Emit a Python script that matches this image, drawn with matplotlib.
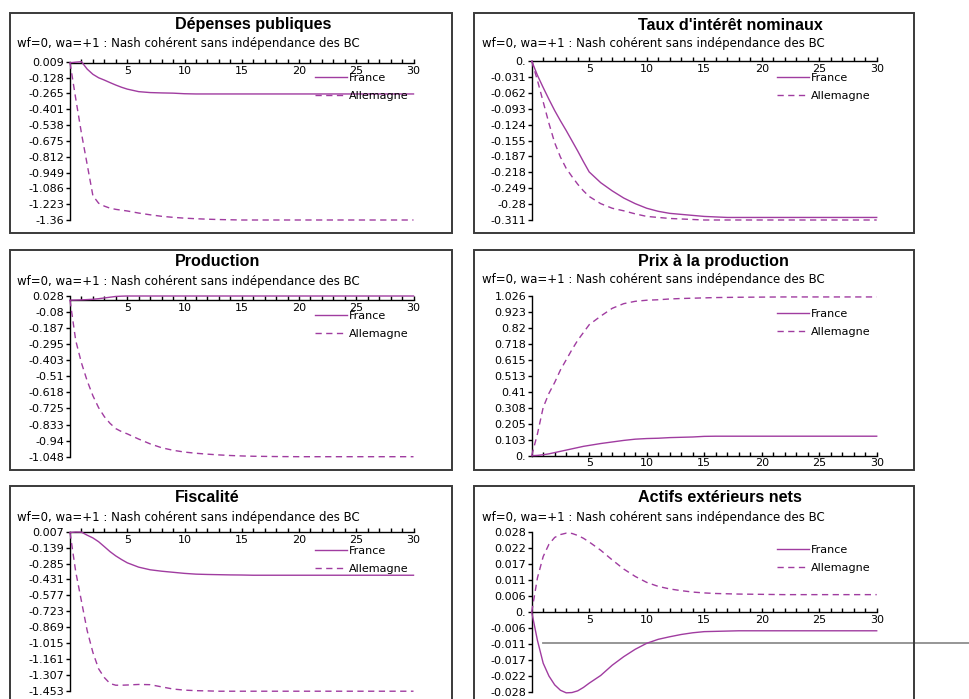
import matplotlib
matplotlib.use("Agg")
import matplotlib.pyplot as plt
from matplotlib.patches import Rectangle
import numpy as np

W, H = 970, 699

# Simulation horizon (periods after the shock)
periods = [0, 0.5, 1, 1.5, 2, 2.5, 3, 3.5, 4, 4.5, 5, 6, 7, 8, 9, 10, 11, 12, 13, 14,
           15, 16, 17, 18, 20, 22, 24, 26, 28, 30]

depenses_france = [0.0, 0.005, 0.009, -0.055, -0.100, -0.130, -0.150, -0.172, -0.193, -0.212,
                   -0.228, -0.250, -0.258, -0.261, -0.263, -0.268, -0.270, -0.270, -0.270, -0.270,
                   -0.270, -0.270, -0.270, -0.270, -0.270, -0.270, -0.270, -0.270, -0.270, -0.270]
depenses_allemagne = [0.0, -0.31, -0.61, -0.88, -1.15, -1.215, -1.24, -1.258, -1.268, -1.275,
                      -1.282, -1.300, -1.315, -1.328, -1.337, -1.344, -1.349, -1.353, -1.356, -1.358,
                      -1.360, -1.360, -1.360, -1.360, -1.360, -1.360, -1.360, -1.360, -1.360, -1.360]

taux_france = [0.0, -0.028, -0.052, -0.075, -0.097, -0.117, -0.136, -0.156, -0.176, -0.197,
               -0.217, -0.238, -0.254, -0.268, -0.279, -0.288, -0.294, -0.298, -0.300, -0.302,
               -0.304, -0.305, -0.306, -0.306, -0.306, -0.306, -0.306, -0.306, -0.306, -0.306]
taux_allemagne = [0.0, -0.038, -0.080, -0.122, -0.160, -0.188, -0.210, -0.226, -0.241, -0.254,
                  -0.265, -0.279, -0.288, -0.293, -0.299, -0.304, -0.306, -0.308, -0.309, -0.310,
                  -0.311, -0.311, -0.311, -0.311, -0.311, -0.311, -0.311, -0.311, -0.311, -0.311]

production_france = [0.0, 0.001, 0.002, 0.004, 0.006, 0.010, 0.015, 0.020, 0.025, 0.027,
                     0.028, 0.028, 0.028, 0.028, 0.028, 0.028, 0.028, 0.028, 0.028, 0.028,
                     0.028, 0.028, 0.028, 0.028, 0.028, 0.028, 0.028, 0.028, 0.028, 0.028]
production_allemagne = [0.0, -0.27, -0.42, -0.54, -0.64, -0.72, -0.78, -0.825, -0.86, -0.88,
                        -0.895, -0.93, -0.962, -0.988, -1.005, -1.017, -1.025, -1.031, -1.036, -1.040,
                        -1.043, -1.045, -1.046, -1.047, -1.048, -1.048, -1.048, -1.048, -1.048, -1.048]

prix_france = [0.0, 0.002, 0.006, 0.012, 0.020, 0.028, 0.036, 0.044, 0.052, 0.060,
               0.066, 0.078, 0.088, 0.098, 0.106, 0.110, 0.112, 0.116, 0.118, 0.120,
               0.124, 0.125, 0.125, 0.125, 0.125, 0.125, 0.125, 0.125, 0.125, 0.125]
prix_allemagne = [0.0, 0.14, 0.31, 0.40, 0.47, 0.55, 0.615, 0.68, 0.74, 0.79,
                  0.84, 0.895, 0.945, 0.975, 0.99, 0.997, 1.0, 1.005, 1.008, 1.010,
                  1.012, 1.014, 1.015, 1.016, 1.017, 1.018, 1.018, 1.018, 1.018, 1.018]

fiscalite_france = [0.0, 0.004, 0.003, -0.025, -0.050, -0.085, -0.130, -0.176, -0.215, -0.248,
                    -0.278, -0.318, -0.342, -0.355, -0.365, -0.375, -0.382, -0.385, -0.387, -0.389,
                    -0.390, -0.392, -0.392, -0.392, -0.392, -0.392, -0.392, -0.392, -0.392, -0.392]
fiscalite_allemagne = [0.0, -0.36, -0.63, -0.90, -1.10, -1.25, -1.33, -1.385, -1.40, -1.40,
                       -1.398, -1.393, -1.395, -1.415, -1.435, -1.445, -1.450, -1.452, -1.455, -1.455,
                       -1.455, -1.455, -1.455, -1.455, -1.455, -1.455, -1.455, -1.455, -1.455, -1.455]

actifs_france = [0.0, -0.0100, -0.0180, -0.0225, -0.0256, -0.0275, -0.0284, -0.0283, -0.0277, -0.0265,
                 -0.0250, -0.0223, -0.0187, -0.0157, -0.0131, -0.0110, -0.0096, -0.0087, -0.0079, -0.0073,
                 -0.0069, -0.0068, -0.0067, -0.0066, -0.0066, -0.0066, -0.0066, -0.0066, -0.0066, -0.0066]
actifs_allemagne = [0.0, 0.0120, 0.0195, 0.0238, 0.0262, 0.0272, 0.0277, 0.0276, 0.0269, 0.0259,
                    0.0246, 0.0217, 0.0183, 0.0151, 0.0125, 0.0104, 0.0090, 0.0081, 0.0075, 0.0070,
                    0.0067, 0.0065, 0.0064, 0.0063, 0.0062, 0.0061, 0.0061, 0.0061, 0.0061, 0.0061]

# Stray horizontal rule in the net foreign assets panel
actifs_rule_level = -0.011
actifs_rule_start = 1

titles = ["Dépenses publiques", "Taux d'intérêt nominaux", "Production",
          "Prix à la production", "Fiscalité", "Actifs extérieurs nets"]
subtitle = "wf=0, wa=+1 : Nash cohérent sans indépendance des BC"
series_names = ["France", "Allemagne"]

ytick_labels = [
    ["0.009", "-0.128", "-0.265", "-0.401", "-0.538", "-0.675", "-0.812", "-0.949", "-1.086", "-1.223", "-1.36"],
    ["0.", "-0.031", "-0.062", "-0.093", "-0.124", "-0.155", "-0.187", "-0.218", "-0.249", "-0.28", "-0.311"],
    ["0.028", "-0.08", "-0.187", "-0.295", "-0.403", "-0.51", "-0.618", "-0.725", "-0.833", "-0.94", "-1.048"],
    ["1.026", "0.923", "0.82", "0.718", "0.615", "0.513", "0.41", "0.308", "0.205", "0.103", "0."],
    ["0.007", "-0.139", "-0.285", "-0.431", "-0.577", "-0.723", "-0.869", "-1.015", "-1.161", "-1.307", "-1.453"],
    ["0.028", "0.022", "0.017", "0.011", "0.006", "0.", "-0.006", "-0.011", "-0.017", "-0.022", "-0.028"],
]
xtick_labels = ["5", "10", "15", "20", "25", "30"]

france_series = [depenses_france, taux_france, production_france, prix_france,
                 fiscalite_france, actifs_france]
allemagne_series = [depenses_allemagne, taux_allemagne, production_allemagne, prix_allemagne,
                    fiscalite_allemagne, actifs_allemagne]

# Layout, in pixels: plot box, frame box, title anchor, subtitle anchor, legend anchor
layout = [
    dict(plot=(70, 61.7, 413.5, 220.0), frame=(10, 13, 452, 233), title=(175, 25), sub=(17, 44), leg=(315, 73)),
    dict(plot=(531.7, 61.0, 876.7, 220.0), frame=(474, 13, 914, 233), title=(638, 25), sub=(482, 44), leg=(777, 73)),
    dict(plot=(70, 296.0, 413.5, 456.7), frame=(10, 250, 452, 470), title=(175, 262), sub=(17, 281), leg=(315, 311)),
    dict(plot=(531.7, 295.7, 876.7, 455.7), frame=(474, 250, 914, 470), title=(638, 262), sub=(482, 279), leg=(777, 309)),
    dict(plot=(70, 531.7, 413.5, 691.0), frame=(10, 486, 452, 712), title=(175, 498), sub=(17, 517), leg=(315, 546)),
    dict(plot=(531.7, 532.3, 876.7, 691.7), frame=(474, 486, 914, 712), title=(638, 498), sub=(482, 517), leg=(777, 545)),
]

line_color = "#a03ca0"
small_font = "DejaVu Sans"
title_font = "Liberation Sans"

fig = plt.figure(figsize=(W / 100, H / 100), dpi=100)
fig.patch.set_facecolor("white")

for i, lay in enumerate(layout):
    fx0, fy0, fx1, fy1 = lay["frame"]
    fig.patches.append(Rectangle((fx0 / W, 1 - fy1 / H), (fx1 - fx0) / W, (fy1 - fy0) / H,
                                 transform=fig.transFigure, fill=False, lw=1.4,
                                 edgecolor="#3a3a3a", zorder=0))

    x0, y0, x1, y1 = lay["plot"]
    ax = fig.add_axes([x0 / W, 1 - y1 / H, (x1 - x0) / W, (y1 - y0) / H])
    ax.patch.set_alpha(0)

    labels = ytick_labels[i]
    ytop, ybot = float(labels[0]), float(labels[-1])
    ax.set_xlim(0, 30)
    ax.set_ylim(ybot, ytop)

    lf, = ax.plot(periods, france_series[i], color=line_color, lw=1.0, clip_on=False,
                  solid_joinstyle="round", zorder=3)
    la, = ax.plot(periods, allemagne_series[i], color=line_color, lw=1.0, clip_on=False,
                  dashes=(4.5, 3.2), zorder=3)

    if i == 5:
        right_edge = ax.transData.inverted().transform(fig.transFigure.transform((1, 0)))[0]
        ax.plot([actifs_rule_start, right_edge], [actifs_rule_level, actifs_rule_level],
                color="#8e8e8e", lw=1.3, clip_on=False, zorder=2)

    for s in ("top", "right"):
        ax.spines[s].set_visible(False)
    ax.spines["bottom"].set_position(("data", 0))
    ax.spines["left"].set_bounds(ybot, ytop)
    for s in ("bottom", "left"):
        ax.spines[s].set_linewidth(1.0)
        ax.spines[s].set_color("black")

    ax.set_yticks(np.linspace(ytop, ybot, 11))
    ax.set_yticklabels(labels)
    ax.set_xticks([5, 10, 15, 20, 25, 30])
    ax.set_xticklabels(xtick_labels)
    ax.set_xticks(list(range(1, 31)), minor=True)
    ax.tick_params(axis="x", which="both", direction="in", length=3, width=1.0, pad=2,
                   labelsize=8, color="black")
    ax.tick_params(axis="y", direction="out", length=3, width=1.0, pad=1, labelsize=8,
                   color="black")
    for lab in ax.get_xticklabels() + ax.get_yticklabels():
        lab.set_family(small_font)

    lx, ly = lay["leg"]
    ax.legend(handles=[lf, la], labels=series_names, loc="upper left",
              bbox_to_anchor=(lx / W, 1 - ly / H), bbox_transform=fig.transFigure,
              frameon=False, borderpad=0, borderaxespad=0, handlelength=2.9,
              handletextpad=0.15, labelspacing=0.72, prop={"family": small_font, "size": 8})

    tx, ty = lay["title"]
    fig.text(tx / W, 1 - ty / H, titles[i], ha="left", va="center", fontsize=11.6,
             fontweight="bold", family=title_font)
    sx, sy = lay["sub"]
    fig.text(sx / W, 1 - sy / H, subtitle, ha="left", va="center", fontsize=8.5,
             family=small_font)

fig.savefig("out.png", dpi=100)
